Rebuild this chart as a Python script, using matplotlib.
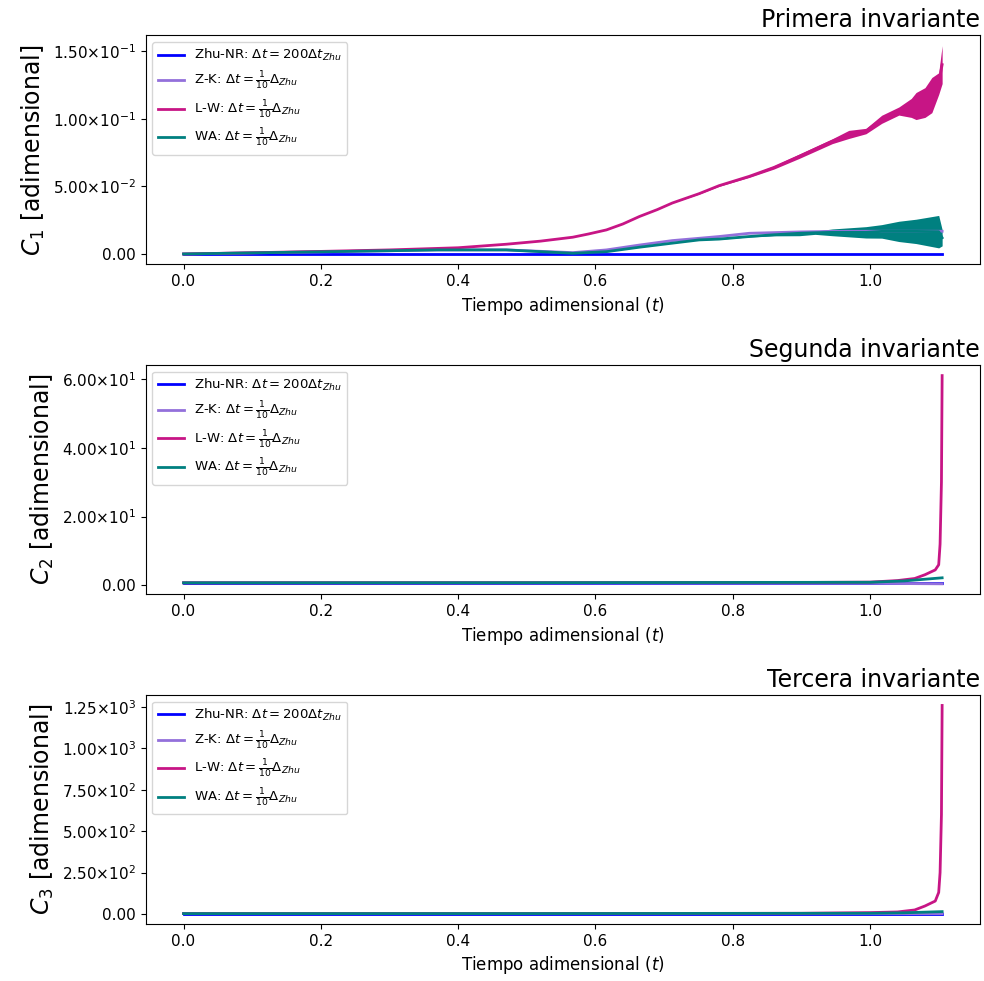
import numpy as np
import matplotlib
matplotlib.use("Agg")
import matplotlib.pyplot as plt
from matplotlib.ticker import FuncFormatter

# ---- data ----
labels = [r'Zhu-NR: $\Delta t = 200\Delta t_{Zhu}$',
          r'Z-K: $\Delta t = \frac{1}{10}\Delta_{Zhu}$',
          r'L-W: $\Delta t = \frac{1}{10}\Delta_{Zhu}$',
          r'WA: $\Delta t = \frac{1}{10}\Delta_{Zhu}$']
colors = ['blue', 'mediumpurple', 'mediumvioletred', 'teal']
titles = ['Primera invariante', 'Segunda invariante', 'Tercera invariante']
ylabels = [r'$C_1$ [adimensional]', r'$C_2$ [adimensional]', r'$C_3$ [adimensional]']

# C1
t_zhu1 = [0.0, 1.105]
c_zhu1 = [0.0, 0.0]

t_zk1 = [0.0, 0.1, 0.2, 0.3, 0.37, 0.47, 0.567, 0.616, 0.664, 0.712, 0.751, 0.78,
         0.824, 0.897, 0.945, 1.0, 1.05, 1.105]
c_zk1 = [0.0, 0.0008, 0.0016, 0.0024, 0.003, 0.003, 0.001, 0.003, 0.0066, 0.0099,
         0.0116, 0.0129, 0.0153, 0.0163, 0.0167, 0.0168, 0.0168, 0.0168]

t_lw1 = [0.0, 0.1, 0.2, 0.3, 0.4, 0.47, 0.52, 0.567, 0.59, 0.616, 0.64, 0.664, 0.69,
         0.712, 0.751, 0.78, 0.824, 0.86, 0.897, 0.945, 0.969, 0.994, 1.017, 1.042,
         1.06, 1.067, 1.08, 1.09, 1.1, 1.105]
c_lw1 = [0.0, 0.0009, 0.0019, 0.003, 0.0046, 0.0072, 0.0095, 0.0124, 0.0148, 0.0178,
         0.0222, 0.0277, 0.0328, 0.0377, 0.0446, 0.0505, 0.0574, 0.064, 0.0723, 0.0834,
         0.0884, 0.0909, 0.0996, 0.1057, 0.108, 0.1094, 0.112, 0.1175, 0.126, 0.14]
hw_lw1 = [0.0, 0.0, 0.0, 0.0, 0.0, 0.0, 0.0, 0.0, 0.0, 0.0, 0.0, 0.0, 0.0,
          0.0, 0.0003, 0.0005, 0.0008, 0.0012, 0.0016, 0.0018, 0.003, 0.002, 0.003,
          0.003, 0.007, 0.01, 0.011, 0.013, 0.008, 0.014]

t_wa1 = [0.0, 0.1, 0.2, 0.3, 0.37, 0.47, 0.567, 0.616, 0.664, 0.712, 0.751, 0.78,
         0.824, 0.86, 0.897, 0.92, 0.945, 0.994, 1.017, 1.042, 1.067, 1.1, 1.105]
c_wa1 = [0.0, 0.0008, 0.0016, 0.0024, 0.003, 0.003, 0.0005, 0.0017, 0.005, 0.008,
         0.0104, 0.011, 0.0129, 0.0142, 0.0153, 0.0157, 0.016, 0.016, 0.0167, 0.0167,
         0.0167, 0.0165, 0.012]
hw_wa1 = [0.0, 0.0, 0.0, 0.0, 0.0, 0.0, 0.0, 0.0, 0.0, 0.0, 0.0, 0.0002, 0.0003,
          0.0008, 0.0018, 0.0012, 0.0025, 0.0042, 0.005, 0.0075, 0.009, 0.012, 0.006]

# C2
t_zhu2 = [0.0, 1.105]
c_zhu2 = [0.75, 0.75]
t_zk2 = [0.0, 0.5, 1.0, 1.105]
c_zk2 = [0.75, 0.7, 0.6, 0.45]
t_lw2 = [0.0, 0.5, 0.9, 1.0, 1.04, 1.065, 1.08, 1.095, 1.1, 1.102, 1.104, 1.105]
c_lw2 = [0.75, 0.78, 0.85, 0.95, 1.4, 2.0, 3.1, 4.5, 6.0, 12.0, 30.0, 61.0]
t_wa2 = [0.0, 0.5, 1.0, 1.05, 1.105]
c_wa2 = [0.75, 0.78, 0.9, 1.3, 2.2]

# C3
t_zhu3 = [0.0, 1.105]
c_zhu3 = [2.0, 2.0]
t_zk3 = [0.0, 0.5, 1.0, 1.105]
c_zk3 = [2.0, 2.0, 2.0, 1.5]
t_lw3 = [0.0, 0.5, 0.9, 1.0, 1.04, 1.065, 1.08, 1.095, 1.1, 1.102, 1.104, 1.105]
c_lw3 = [2.0, 2.2, 4.0, 8.0, 12.0, 24.0, 48.0, 78.0, 130.0, 250.0, 600.0, 1260.0]
t_wa3 = [0.0, 0.5, 1.0, 1.05, 1.105]
c_wa3 = [2.0, 2.2, 4.0, 7.0, 14.0]


def sci(v, pos):
    if abs(v) < 1e-12:
        return '0.00'
    e = int(np.floor(np.log10(abs(v))))
    m = v / 10 ** e
    return r'${:.2f}{{\times}}10^{{{}}}$'.format(m, e)


fig, axes = plt.subplots(3, 1, figsize=(9.84, 9.81), dpi=100)
fig.subplots_adjust(left=0.148, right=0.996, top=0.964, bottom=0.058, hspace=0.44)

panels = [
    [(t_zhu1, c_zhu1, None), (t_zk1, c_zk1, None), (t_lw1, c_lw1, hw_lw1), (t_wa1, c_wa1, hw_wa1)],
    [(t_zhu2, c_zhu2, None), (t_zk2, c_zk2, None), (t_lw2, c_lw2, None), (t_wa2, c_wa2, None)],
    [(t_zhu3, c_zhu3, None), (t_zk3, c_zk3, None), (t_lw3, c_lw3, None), (t_wa3, c_wa3, None)],
]

for ax, series, title, ylab in zip(axes, panels, titles, ylabels):
    for (t, c, hw), col, lab in zip(series, colors, labels):
        ax.plot(t, c, color=col, lw=2, label=lab)
        if hw is not None:
            t = np.array(t)
            c = np.array(c)
            hw = np.array(hw)
            ax.fill_between(t, c - hw, c + hw, color=col, lw=0)
    ax.set_title(title, loc='right', fontsize=17)
    ax.set_ylabel(ylab, fontsize=17)
    ax.set_xlabel(r'Tiempo adimensional ($t$)', fontsize=12)
    ax.tick_params(labelsize=11)
    ax.yaxis.set_major_formatter(FuncFormatter(sci))
    ax.legend(loc='upper left', fontsize=9.5)

axes[0].set_yticks([0.0, 0.05, 0.10, 0.15])
axes[1].set_yticks([0.0, 20.0, 40.0, 60.0])
axes[2].set_yticks([0.0, 250.0, 500.0, 750.0, 1000.0, 1250.0])

fig.savefig('out.png', dpi=100)
